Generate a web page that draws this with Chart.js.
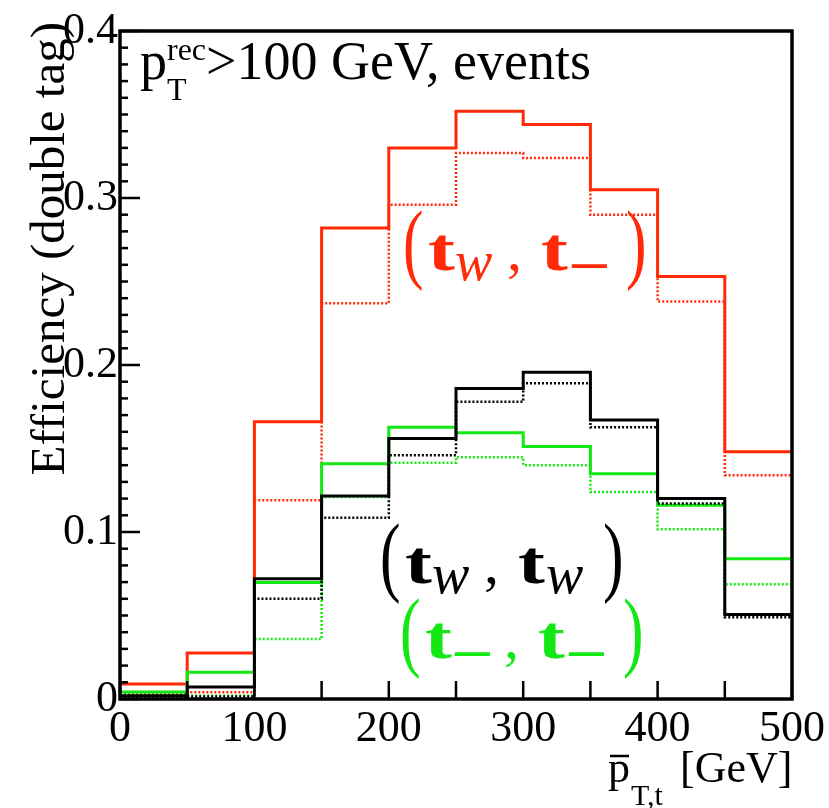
<!DOCTYPE html>
<html>
<head>
<meta charset="utf-8">
<title>Efficiency (double tag)</title>
<script src="https://cdn.jsdelivr.net/npm/chart.js@4.4.1/dist/chart.umd.min.js"></script>
<style>
  html, body { margin: 0; padding: 0; background: #fff; }
  #effCanvas { display: block; }
</style>
</head>
<body>
<canvas id="effCanvas" width="829" height="808"></canvas>
<script>
// bin edges in GeV (10 bins of 50 GeV)
const binEdges = [0, 50, 100, 150, 200, 250, 300, 350, 400, 450, 500]

// efficiencies per bin
const redSolid    = [0.009, 0.0275, 0.166, 0.282, 0.330, 0.352, 0.344, 0.305, 0.253, 0.148]
const redDotted   = [0.003, 0.004, 0.119, 0.237, 0.296, 0.327, 0.324, 0.290, 0.238, 0.134]
const blackSolid  = [0.002, 0.0072, 0.072, 0.1215, 0.156, 0.186, 0.1956, 0.167, 0.120, 0.0506]
const blackDotted = [0.001, 0.0015, 0.060, 0.1086, 0.146, 0.178, 0.189, 0.1627, 0.117, 0.049]
const greenSolid  = [0.0042, 0.016, 0.0697, 0.1408, 0.1627, 0.1594, 0.1512, 0.1349, 0.116, 0.084]
const greenDotted = [0.0024, 0.002, 0.0359, 0.121, 0.1414, 0.1448, 0.140, 0.124, 0.1016, 0.0687]

const yTicks = [0, 0.1, 0.2, 0.3, 0.4]
const xTicks = [0, 100, 200, 300, 400, 500]

const RED = 'rgb(255,42,8)'
const GREEN = 'rgb(20,232,20)'
const BLACK = '#000'
const SERIF = '"Liberation Serif", "DejaVu Serif", serif'

// histogram -> points at left bin edges, plus closing point at last edge
const toSteps = (vals) => {
	let pts = vals.map((v, i) => ({ x: binEdges[i], y: v }))
	pts.push({ x: binEdges[binEdges.length - 1], y: vals[vals.length - 1] })
	return pts
}

const histo = (vals, color, dotted, order) => ({
	data: toSteps(vals),
	borderColor: color,
	borderWidth: dotted ? 2.5 : 3,
	borderDash: dotted ? [2, 2] : [],
	stepped: 'before',
	pointRadius: 0,
	fill: false,
	order: order
})

// pieces of a label like (t_w, t_-) : [text, font, dx, dy, xscale]
const pairLabel = (sub1, sub2) => {
	const tFont = 'bold 62px ' + SERIF
	const pFont = '88px ' + SERIF
	const piece = (s, dx) => s === 'w'
		? ['w', 'italic 56px ' + SERIF, dx - 2, 10, 1]
		: ['\u2212', '72px ' + SERIF, dx - 3, 20, 1.05]
	return [
		['(', pFont, 0, 2, 0.7],
		['t', tFont, 25, 0, 1.3],
		piece(sub1, 54),
		[',', '60px ' + SERIF, 104, 0, 1],
		['t', tFont, 138, 0, 1.3],
		piece(sub2, 168),
		[')', pFont, 223, 2, 0.7]
	]
}

const drawPieces = (ctx, pieces, x0, y0, color) => {
	ctx.fillStyle = color
	ctx.textAlign = 'left'
	ctx.textBaseline = 'alphabetic'
	pieces.forEach(([txt, font, dx, dy, sx]) => {
		ctx.save()
		ctx.font = font
		ctx.translate(x0 + dx, y0 + dy)
		ctx.scale(sx, 1)
		ctx.fillText(txt, 0, 0)
		ctx.restore()
	})
}

// frame, inward ticks and all extra text
const framePlugin = {
	id: 'framePlugin',
	afterDraw(chart) {
		const ctx = chart.ctx
		const xs = chart.scales.x
		const ys = chart.scales.y
		const a = chart.chartArea
		ctx.save()
		ctx.strokeStyle = '#000'

		// y ticks: major every 0.1, minor every 0.01
		ctx.lineWidth = 2.5
		for (let k = 0; k <= 40; k++) {
			let py = ys.getPixelForValue(k / 100)
			let len = (k % 10 === 0) ? 20 : 8
			ctx.beginPath()
			ctx.moveTo(a.left, py)
			ctx.lineTo(a.left + len, py)
			ctx.stroke()
		}
		// x ticks every 50 GeV
		binEdges.forEach(e => {
			let px = xs.getPixelForValue(e)
			ctx.beginPath()
			ctx.moveTo(px, a.bottom)
			ctx.lineTo(px, a.bottom - 18)
			ctx.stroke()
		})

		// frame
		ctx.lineWidth = 3.5
		ctx.strokeRect(a.left, a.top, a.right - a.left, a.bottom - a.top)

		// y axis title
		ctx.fillStyle = '#000'
		ctx.save()
		ctx.translate(64, 22)
		ctx.rotate(-Math.PI / 2)
		ctx.font = '49px ' + SERIF
		ctx.textAlign = 'right'
		ctx.textBaseline = 'alphabetic'
		ctx.fillText('Efficiency (double tag)', 0, 0)
		ctx.restore()

		// x axis title
		ctx.textAlign = 'left'
		ctx.textBaseline = 'alphabetic'
		ctx.font = '44px ' + SERIF
		ctx.fillText('p', 608, 782)
		ctx.fillText('[GeV]', 680, 782)
		ctx.lineWidth = 2.5
		ctx.beginPath()
		ctx.moveTo(610, 756)
		ctx.lineTo(629, 756)
		ctx.stroke()
		ctx.font = '30px ' + SERIF
		ctx.fillText('T,t', 631, 805)

		// selection text
		ctx.font = '54px ' + SERIF
		ctx.fillText('p', 140, 79)
		ctx.font = '32px ' + SERIF
		ctx.fillText('rec', 167, 60)
		ctx.fillText('T', 167, 100)
		ctx.font = '54px ' + SERIF
		ctx.fillText('>100 GeV, events', 206, 79)

		// pair labels
		drawPieces(ctx, pairLabel('w', '-'), 403, 270, RED)
		drawPieces(ctx, pairLabel('w', 'w'), 380, 583, BLACK)
		drawPieces(ctx, pairLabel('-', '-'), 400, 658, GREEN)
		ctx.restore()
	}
}

let effCanvas = document.getElementById('effCanvas')
let effChart = new Chart(effCanvas, {
	type: 'line',
	data: {
		datasets: [
			histo(blackSolid, BLACK, false, 0),
			histo(blackDotted, BLACK, true, 1),
			histo(greenSolid, GREEN, false, 2),
			histo(greenDotted, GREEN, true, 3),
			histo(redSolid, RED, false, 4),
			histo(redDotted, RED, true, 5)
		]
	},
	options: {
		responsive: false,
		animation: false,
		devicePixelRatio: 1,
		layout: { padding: { top: 31, right: 36, left: 0, bottom: 0 } },
		plugins: {
			legend: { display: false },
			tooltip: { enabled: false },
			title: { display: false }
		},
		scales: {
			x: {
				type: 'linear',
				min: 0,
				max: 500,
				afterFit: (scale) => { scale.height = 109 },
				afterBuildTicks: (scale) => { scale.ticks = xTicks.map(v => ({ value: v })) },
				grid: { display: false, drawTicks: false },
				border: { display: false },
				ticks: {
					color: '#000',
					padding: 4,
					maxRotation: 0,
					font: { family: SERIF, size: 44 },
					callback: (v) => String(v)
				}
			},
			y: {
				min: 0,
				max: 0.4,
				afterFit: (scale) => { scale.width = 120 },
				afterBuildTicks: (scale) => { scale.ticks = yTicks.map(v => ({ value: v })) },
				grid: { display: false, drawTicks: false },
				border: { display: false },
				ticks: {
					color: '#000',
					padding: 2,
					font: { family: SERIF, size: 44 },
					callback: (v) => v === 0 ? '0' : v.toFixed(1)
				}
			}
		}
	},
	plugins: [framePlugin]
})
</script>
</body>
</html>
